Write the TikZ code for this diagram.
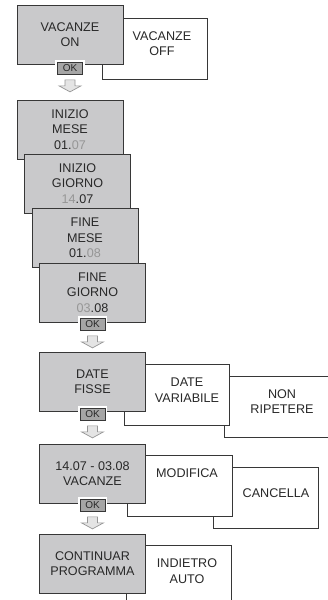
\documentclass[tikz,border=0pt]{standalone}
\usepackage{fontspec}
\setmainfont{Liberation Sans}
\definecolor{boxgray}{RGB}{201,201,203}
\definecolor{edge}{RGB}{55,55,55}
\definecolor{ink}{RGB}{40,40,40}
\definecolor{digit}{RGB}{150,150,150}
\definecolor{okgray}{RGB}{165,165,165}
\definecolor{arrfill}{RGB}{228,228,228}
\definecolor{arrline}{RGB}{150,150,150}
\newcommand\hollowdown[1]{\draw[dnarrow] (#1) ++(-5,0) -- ++(10,0) -- ++(0,6) -- ++(6,0) -- ++(-11,6) -- ++(-11,-6) -- ++(6,0) -- cycle;}
\begin{document}
\begin{tikzpicture}[x=1pt, y=-1pt, font=\fontsize{12.6}{15.5}\selectfont,
  grbox/.style={draw=edge, line width=0.9pt, fill=boxgray, minimum width=106pt, minimum height=59pt, inner sep=0pt, align=center, text=ink},
  whbox/.style={draw=edge, line width=0.8pt, fill=white, minimum width=105pt, minimum height=61pt, inner sep=0pt},
  lbl/.style={align=center, text=ink, inner sep=0pt},
  okbtn/.style={draw=edge, line width=0.8pt, fill=okgray, minimum width=25pt, minimum height=12pt, inner sep=0pt, text=ink, font=\fontsize{10}{10}\selectfont, preaction={draw=white, line width=4.5pt}},
  dnarrow/.style={draw=arrline, fill=arrfill, line width=0.7pt, line join=miter}]
  \useasboundingbox (0,0) rectangle (328,600);
  \clip (0,0) rectangle (328,600);
  \fill[white] (0,0) rectangle (328,600);
  % vacanze on / off
  \node[whbox] (off) at (154.5,48.5) {};
  \node[lbl] (offtxt) at ([xshift=7.5pt, yshift=5pt]off.center) {VACANZE\\OFF};
  \node[grbox] (on) at (70,34.5) {VACANZE\\ON};
  \node[okbtn] (ok1) at ([yshift=-4pt]on.south) {OK};
  \coordinate (a1) at ([yshift=-5pt]ok1.south);
  \hollowdown{a1}
  % start and end dates
  \node[grbox] (imese) at (70,129.5) {INIZIO\\MESE\\01.\textcolor{digit}{07}};
  \node[grbox] (igiorno) at (77.5,183.5) {INIZIO\\GIORNO\\\textcolor{digit}{14}.07};
  \node[grbox] (fmese) at (85,238) {FINE\\MESE\\01.\textcolor{digit}{08}};
  \node[grbox] (fgiorno) at (92.5,292.5) {FINE\\GIORNO\\\textcolor{digit}{03}.08};
  \node[okbtn] (ok2) at ([yshift=-2pt]fgiorno.south) {OK};
  \coordinate (a2) at ([yshift=-5pt]ok2.south);
  \hollowdown{a2}
  % fixed / variable dates
  \node[whbox, minimum width=115pt] (nonrip) at (281.5,406.5) {};
  \node[lbl] (noniptxt) at ([xshift=0.5pt, yshift=5pt]nonrip.center) {NON\\RIPETERE};
  \node[whbox] (dvar) at (177,394.5) {};
  \node[lbl] (dvartxt) at ([xshift=10pt, yshift=4.5pt]dvar.center) {DATE\\VARIABILE};
  \node[grbox] (fisse) at (92.5,381.5) {DATE\\FISSE};
  \node[okbtn] (ok3) at ([yshift=-3pt]fisse.south) {OK};
  \coordinate (a3) at ([yshift=-5pt]ok3.south);
  \hollowdown{a3}
  % holiday period
  \node[whbox] (canc) at (266,497.5) {};
  \node[lbl] (canctxt) at ([xshift=10pt, yshift=4pt]canc.center) {CANCELLA};
  \node[whbox] (modif) at (179.5,485.5) {};
  \node[lbl] (modiftxt) at ([xshift=7.5pt, yshift=12.5pt]modif.center) {MODIFICA};
  \node[grbox] (vac) at (92.5,473.5) {14.07 - 03.08\\VACANZE};
  \node[okbtn] (ok4) at ([yshift=-2pt]vac.south) {OK};
  \coordinate (a4) at ([yshift=-5pt]ok4.south);
  \hollowdown{a4}
  % continue
  \node[whbox] (indiet) at (178.5,575.5) {};
  \node[lbl] (indiettxt) at ([xshift=8.5pt, yshift=4.5pt]indiet.center) {INDIETRO\\AUTO};
  \node[grbox] (cont) at (92.5,563.5) {CONTINUAR\\PROGRAMMA};
\end{tikzpicture}
\end{document}
